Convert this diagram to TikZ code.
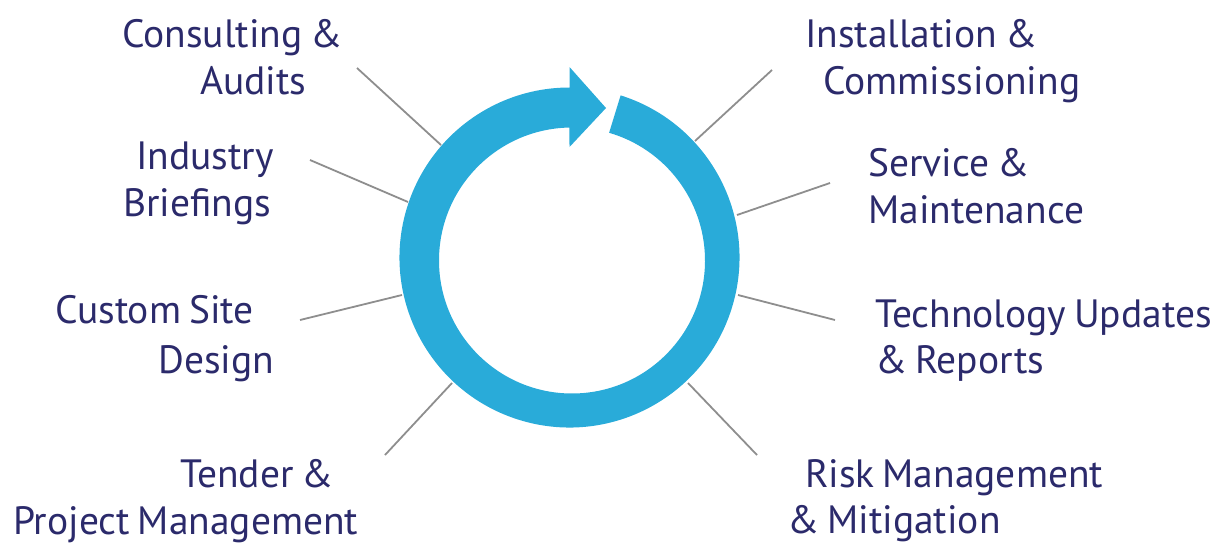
\documentclass[tikz,border=0pt]{standalone}
\usepackage{fontspec}
\setmainfont{PT Sans}[WordSpace=0.75]
\usetikzlibrary{calc}
\definecolor{ringblue}{HTML}{29ABD9}
\definecolor{navy}{HTML}{2B2A6B}
\definecolor{linegray}{HTML}{8E8E8E}
\begin{document}
\begin{tikzpicture}[x=1pt,y=1pt,
  lbl/.style={anchor=base west,inner sep=0pt,text=navy,font=\fontsize{39.5}{46}\selectfont},
  conn/.style={draw=linegray,line width=1.8pt}]
\useasboundingbox (0,0) rectangle (1226,-544);
% connector end points
\coordinate (c1a) at (357,-68);  \coordinate (c1b) at (441,-145);
\coordinate (c2a) at (310,-160); \coordinate (c2b) at (408,-202);
\coordinate (c3a) at (300,-320); \coordinate (c3b) at (402,-295);
\coordinate (c4a) at (385,-455); \coordinate (c4b) at (452,-383);
\coordinate (c5a) at (772,-70);  \coordinate (c5b) at (695,-141);
\coordinate (c6a) at (830,-183); \coordinate (c6b) at (737,-215);
\coordinate (c7a) at (835,-320); \coordinate (c7b) at (738,-295);
\coordinate (c8a) at (757,-455); \coordinate (c8b) at (688,-383);
\foreach \i in {1,...,8} {\draw[conn] (c\i a) -- (c\i b);}
% ring with arrow
\coordinate (oc) at (569.5,-257.5);
\coordinate (ic) at (572,-260.5);
\fill[ringblue] ($(oc)+(72.5:170)$) arc[start angle=72.5,end angle=-270,radius=170]
  -- (569.5,-67) -- (606,-108) -- (569.5,-147)
  -- ($(ic)+(-268.9:133)$) arc[start angle=-268.9,end angle=73.8,radius=133] -- cycle;
% labels
\node[lbl] (l1a) at (122,-47) {Consulting \&};
\node[lbl] (l1b) at (200,-94) {Audits};
\node[lbl] (l2a) at (136,-169) {Industry};
\node[lbl] (l2b) at (123,-216) {Briefings};
\node[lbl] (l3a) at (55,-323) {Custom Site};
\node[lbl] (l3b) at (158,-373) {Design};
\node[lbl] (l4a) at (180,-487) {Tender \&};
\node[lbl] (l4b) at (13,-534) {Project Management};
\node[lbl] (l5a) at (805,-47) {Installation \&};
\node[lbl] (l5b) at (823,-94) {Commissioning};
\node[lbl] (l6a) at (868,-176) {Service \&};
\node[lbl] (l6b) at (868,-223) {Maintenance};
\node[lbl] (l7a) at (875,-327) {Technology Updates};
\node[lbl] (l7b) at (875,-373) {\& Reports};
\node[lbl] (l8a) at (805,-487) {Risk Management};
\node[lbl] (l8b) at (787,-533) {\& Mitigation};
\end{tikzpicture}
\end{document}
